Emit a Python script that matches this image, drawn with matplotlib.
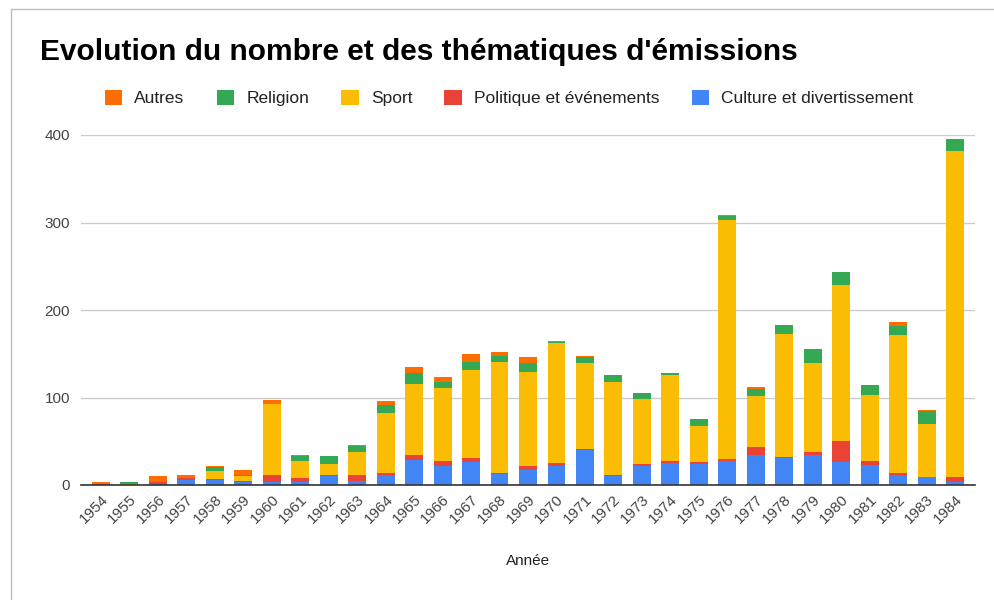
import matplotlib
matplotlib.use("Agg")
import matplotlib.pyplot as plt
from matplotlib.lines import Line2D
import numpy as np

plt.rcParams['font.family'] = ['Liberation Sans', 'DejaVu Sans']

years = [str(y) for y in range(1954, 1985)]
culture = [0, 0, 1, 6, 6, 3, 4, 4, 10, 5, 11, 29, 22, 26, 13, 17, 22, 40, 10, 22, 25, 24, 27, 34, 31, 34, 26, 23, 11, 9, 4]
politique = [1, 0, 2, 2, 1, 2, 7, 4, 1, 7, 3, 5, 5, 5, 1, 5, 3, 1, 1, 2, 2, 2, 3, 9, 1, 4, 24, 5, 3, 0, 5]
sport = [0, 1, 0, 0, 9, 5, 82, 19, 13, 26, 68, 82, 84, 100, 127, 107, 137, 98, 107, 74, 99, 42, 273, 59, 141, 102, 179, 75, 157, 61, 373]
religion = [0, 2, 0, 0, 5, 2, 0, 6, 9, 7, 9, 12, 7, 10, 7, 11, 2, 7, 8, 7, 2, 7, 4, 8, 10, 15, 14, 11, 11, 15, 14]
autres = [3, 1, 7, 4, 1, 5, 4, 1, 0, 1, 5, 7, 5, 9, 4, 6, 1, 1, 0, 0, 0, 0, 2, 2, 0, 1, 0, 0, 4, 1, 0]

series = [
    ("Culture et divertissement", culture, "#4285F4"),
    ("Politique et événements", politique, "#EA4335"),
    ("Sport", sport, "#FBBC04"),
    ("Religion", religion, "#34A853"),
    ("Autres", autres, "#FF6D01"),
]

fig = plt.figure(figsize=(9.94, 6.0), dpi=100)
ax = fig.add_axes([81/994, 115/600, (975-81)/994, 350/600])

x = np.arange(len(years))
bottom = np.zeros(len(years))
handles = {}
for name, vals, col in series:
    v = np.array(vals, dtype=float)
    b = ax.bar(x, v, bottom=bottom, width=0.63, color=col, label=name, zorder=3, linewidth=0)
    handles[name] = b
    bottom += v

ax.set_xlim(-0.7, len(years) - 0.3)
ax.set_ylim(0, 400)
ax.set_yticks([0, 100, 200, 300, 400])
ax.yaxis.grid(True, color="#cccccc", linewidth=1, zorder=0)
ax.set_axisbelow(True)
for s in ["top", "right", "left"]:
    ax.spines[s].set_visible(False)
ax.spines["bottom"].set_color("#333333")
ax.spines["bottom"].set_linewidth(1.2)
ax.spines["bottom"].set_zorder(4)
ax.tick_params(axis="y", length=0, labelsize=11, labelcolor="#444444", pad=8)
ax.tick_params(axis="x", length=0, labelsize=11, labelcolor="#444444", pad=5)
ax.set_xticks(x)
ax.set_xticklabels(years, rotation=45, ha="right", rotation_mode="anchor")
ax.set_xlabel("Année", fontsize=11, color="#222222", labelpad=20)

fig.text(40/994, 1 - 52/600, "Evolution du nombre et des thématiques d'émissions",
         fontsize=21.5, fontweight="bold", color="#000000", va="center", ha="left")

order = ["Autres", "Religion", "Sport", "Politique et événements", "Culture et divertissement"]
fig.legend([handles[n] for n in order], order, loc="center", bbox_to_anchor=(509/994, 1 - 98/600),
           ncol=5, frameon=False, fontsize=12.5, handlelength=1.0, handleheight=1.0,
           handletextpad=0.7, columnspacing=1.85, labelcolor="#222222")

# outer frame of the chart card
fig.add_artist(Line2D([11/994, 1], [1 - 9/600, 1 - 9/600], transform=fig.transFigure, color="#bdbdbd", linewidth=1))
fig.add_artist(Line2D([11/994, 11/994], [0, 1 - 9/600], transform=fig.transFigure, color="#bdbdbd", linewidth=1))

fig.savefig("out.png", dpi=100, facecolor="white")
